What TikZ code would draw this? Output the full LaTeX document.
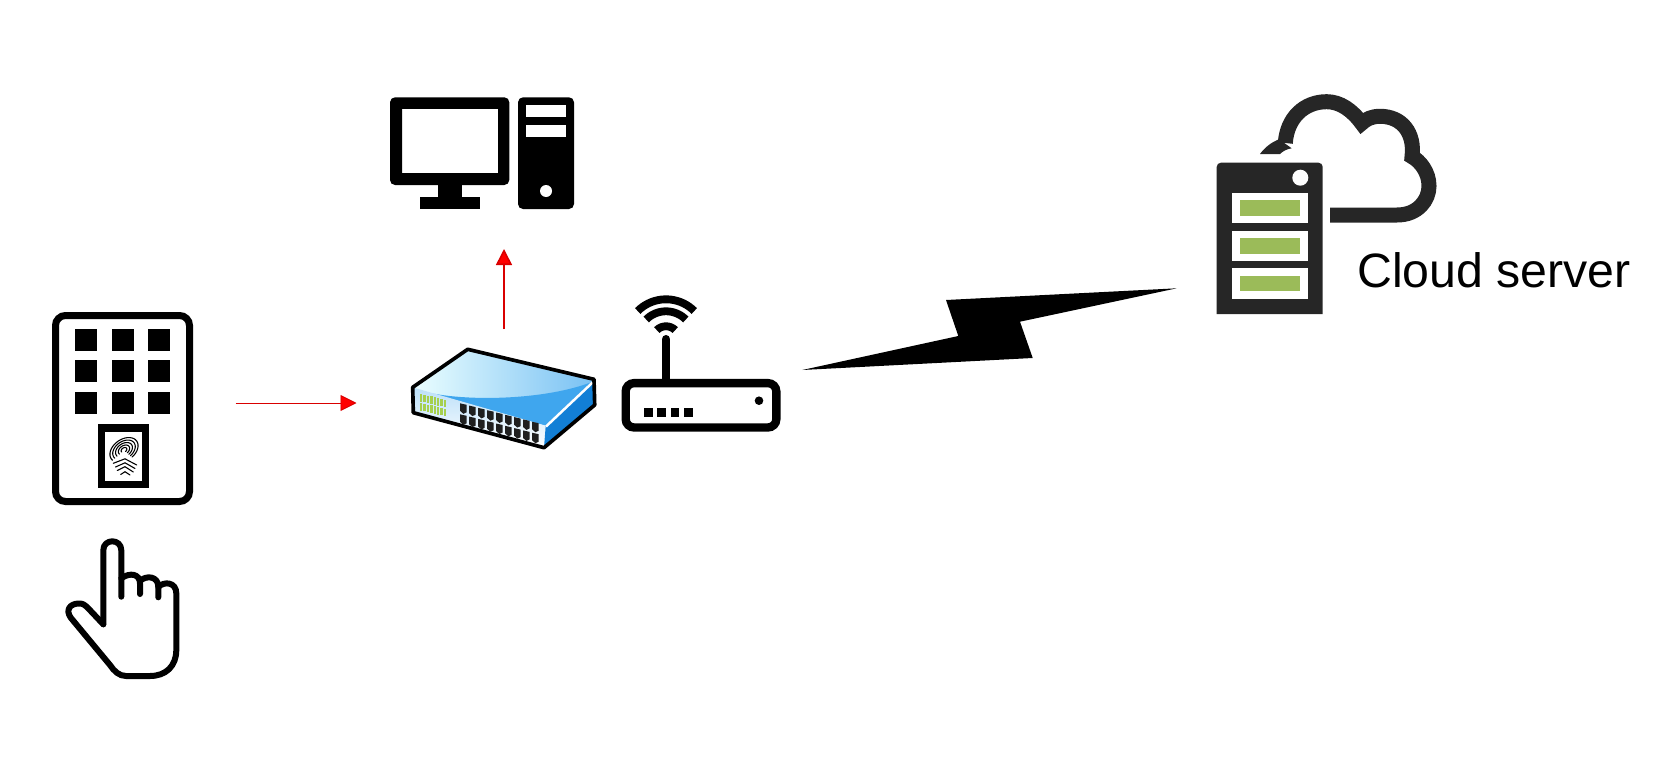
\documentclass[tikz,border=0pt]{standalone}
\usepackage{fontspec}
\setmainfont{Liberation Sans}
\usepackage{xcolor}
\usetikzlibrary{arrows.meta, positioning, calc}

\definecolor{serverdark}{HTML}{262626}
\definecolor{servergreen}{HTML}{9BBB59}
\definecolor{ledgreen}{HTML}{A6D04E}
\definecolor{switchblue}{HTML}{3FA6EE}
\definecolor{switchdeep}{HTML}{127FD6}

\begin{document}
\begin{tikzpicture}[
    x=0.6pt, y=-0.6pt,
    icon/.style={rectangle, inner sep=0pt, outer sep=0pt},
    reader/.style={icon, draw=black, line width=4.2pt, rounded corners=6pt, minimum width=80.4pt, minimum height=111.6pt},
    routerbody/.style={icon, draw=black, line width=5pt, rounded corners=5pt, minimum width=90.4pt, minimum height=26.6pt},
    serverbody/.style={icon, minimum width=63.6pt, minimum height=90.6pt},
    ridge/.style={line width=0.65pt, line cap=round},
    handline/.style={line width=3.6pt, line cap=round, line join=round},
    wifi/.style={line width=4.7pt},
    arrow/.style={-{Triangle[length=9.6pt, width=9.6pt, fill=red]}, draw=red!85!black}
]
\useasboundingbox (0,0) rectangle (1663,760);

% Nodes
\node (reader) [reader] at (122.5,408.5) {};
\node (computer) [icon, minimum width=110.4pt, minimum height=67.2pt] at (482,153) {};
\node (switch) [icon, minimum width=111pt, minimum height=61.2pt] at (503.5,399) {};
\node (router) [routerbody] at (701,405.3) {};
\node (server) [serverbody] at (1269.7,238.3) {};
\node (cloudlabel) [anchor=base west, inner sep=0pt, font=\fontsize{28.95pt}{30pt}\selectfont] at (1357,287) {Cloud server};

% Reader keys and sensor
\foreach \kx in {75.3,112,147.7}
  \foreach \ky in {329,360,392}
    \fill (\kx,\ky) rectangle ++(22,22);
\draw [line width=4.5pt] (101.7,428) rectangle (145.7,484.5);
\foreach \r in {2.5,5,7.5,10,12.5}
  \draw [ridge] plot[domain=170:440, samples=28] ({124+\r*(1.02*cos(\x)+0.48*sin(\x))},{450+\r*(-0.71*cos(\x)+0.70*sin(\x))});
\draw [ridge] (113.3,463.3) -- (125,458.8) -- (136.7,465);
\draw [ridge] (115.5,467) -- (125,462.8) -- (135,468.5);
\draw [ridge] (117.3,470.5) -- (125,466.7) -- (133.3,472);
\draw [ridge] (120.7,474.5) -- (125,471.7) -- (130,475);

% Hand
\draw [handline] (103.3,624.3) -- (103.3,550.3) .. controls (103.3,538.3) and (121.3,538.3) .. (121.3,550.3) -- (121.3,596.7);
\draw [handline] (121.3,578.3) .. controls (130,572) and (140,574) .. (140,583.3) -- (140,594);
\draw [handline] (140,581) .. controls (146,575) and (158.3,576) .. (158.3,586.7) -- (158.3,597.3);
\draw [handline] (158.3,587) .. controls (164,581) and (176.3,582) .. (176.3,593.3) -- (176.3,650)
  .. controls (176.3,666) and (166,676) .. (150,676) -- (126,676) .. controls (119,676) and (114,671) .. (110,665)
  -- (71,618) .. controls (65,610) and (70,603.5) .. (79,603.5) .. controls (83,603.5) and (85,605) .. (87,607) -- (103.3,624.3);

% Computer
\fill [even odd rule, rounded corners=3pt] (390,97.3) rectangle (509.3,185) [sharp corners] (402,109) rectangle (498,173);
\fill (438,185) rectangle (462,197);
\fill (420,197) rectangle (480,209);
\fill [rounded corners=3pt] (518,97.3) rectangle (574,209);
\fill [white] (526,105) rectangle (566,117);
\fill [white] (526,125) rectangle (566,137);
\fill [white] (546,191) circle (6);

% Switch
\shade [left color=blue!4!cyan!8, right color=switchblue!70] (412.7,387.3) -- (467.7,349.3) -- (594,379.3) -- (545.7,425.7) -- cycle;
\fill [switchblue] (414,388.5) .. controls (450,402) and (540,402) .. (592,382) -- (545.7,425.7) -- cycle;
\shade [top color=switchblue!35, bottom color=white] (412.7,387.3) -- (545.7,425.7) -- (544,447.7) -- (413.3,412.7) -- cycle;
\fill [switchdeep] (545.7,425.7) -- (594,379.3) -- (594.7,405) -- (544,447.7) -- cycle;
\draw [white, line width=1.5pt] (546,426.5) -- (592.5,382.5);
\draw [line width=2.2pt, line join=round] (412.7,387.3) -- (467.7,349.3) -- (594,379.3) -- (594.7,405) -- (544,447.7) -- (413.3,412.7) -- cycle;
\foreach \i in {0,...,7} {
  \fill [ledgreen] ({420+3.4*\i},{394+0.8*\i}) rectangle ++(2.3,7.5);
  \fill [ledgreen] ({420+3.4*\i},{403+0.8*\i}) rectangle ++(2.3,7.5);
}
\foreach \i in {0,...,8}
  \foreach \j in {0,1}
    \fill [black!88] ({460+9*\i},{403.3+2.3*\i+11*\j}) -- ++(6.7,1.5) -- ++(0,7.5) -- ++(-3.3,1.5) -- ++(-3.4,-3) -- cycle;

% Router
\draw [line width=5.2pt, line cap=round] (666,339.3) -- (666,381);
\foreach \r in {13,28,40}
  \draw [wifi] plot[domain=225:315, samples=20] ({666+\r*cos(\x)},{339.3+\r*sin(\x)});
\foreach \lx in {644,657.3,670.7,684}
  \fill (\lx,407.7) rectangle ++(8.7,9);
\fill (759,400.7) circle (4.3);

% Lightning
\fill (1176.7,288.3) -- (946,300) -- (958.3,336) -- (802.3,370) -- (1032.7,358) -- (1020,321.7) -- cycle;

% Server and cloud
\fill [serverdark, rounded corners=2.5pt] (1216.7,314) [sharp corners] -- (1216.7,175) [rounded corners=2.5pt] -- (1216.7,162.7) -- (1322.7,162.7) -- (1322.7,175) [sharp corners] -- (1322.7,314) -- cycle;
\fill [white] (1300.3,177.7) circle (8);
\foreach \py in {192.7,230.7,268.3} {
  \fill [white] (1232,\py) rectangle ++(76,30.5);
  \fill [servergreen] (1240,\py+7.4) rectangle ++(60.3,15.6);
}
\draw [serverdark, line width=9pt, miter limit=20] (1330,215) -- (1397,215) .. controls (1418,215) and (1429,200) .. (1429,186)
  .. controls (1429,172) and (1420,161) .. (1412,156.7) .. controls (1415,133) and (1402,116.3) .. (1380,116.3)
  .. controls (1372,116.3) and (1366,119) .. (1361.7,123.3) .. controls (1352,110) and (1340,101.7) .. (1326.7,101.7)
  .. controls (1304,101.7) and (1287,118) .. (1285.3,143);
\fill [serverdark] (1279,139.3) -- (1291.7,148.3) .. controls (1287,149) and (1283,151) .. (1280,154) -- (1260,154) .. controls (1265,147) and (1272,142) .. (1279,139.3) -- cycle;

% Arrows
\draw [arrow, line width=0.55pt] ($(reader.east)+(46,-5.5)$) -- ($(switch.west)+(-54.5,4)$);
\draw [arrow, line width=0.95pt] ($(switch.north)+(0.5,-19)$) -- ($(computer.south)+(22,40)$);

\end{tikzpicture}
\end{document}
